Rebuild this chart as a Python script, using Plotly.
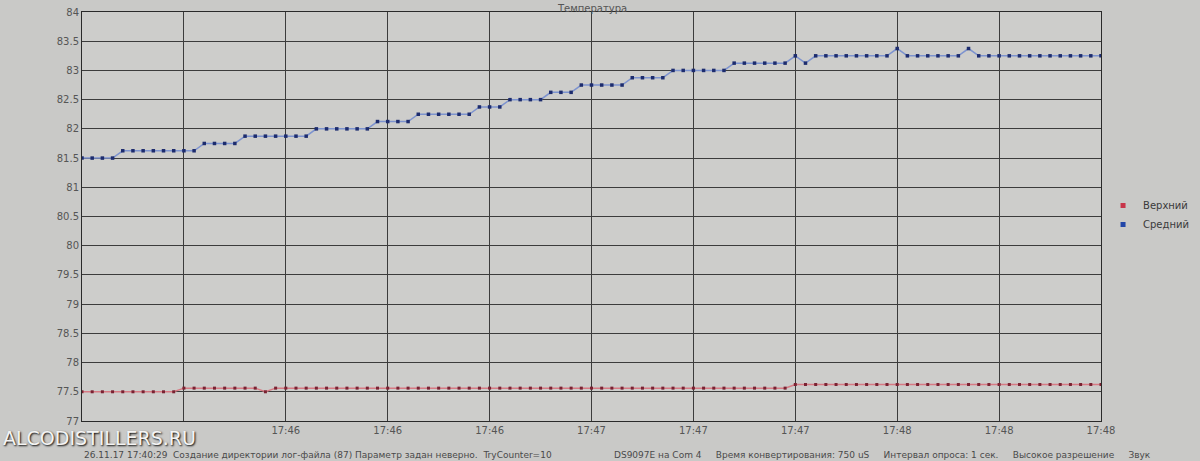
import plotly.graph_objects as go

# sample index (one point every 2 s)
sample_index = list(range(101))

srednij = [
    81.5, 81.5, 81.5, 81.5,
    81.625, 81.625, 81.625, 81.625, 81.625, 81.625, 81.625, 81.625,
    81.75, 81.75, 81.75, 81.75,
    81.875, 81.875, 81.875, 81.875, 81.875, 81.875, 81.875,
    82.0, 82.0, 82.0, 82.0, 82.0, 82.0,
    82.125, 82.125, 82.125, 82.125,
    82.25, 82.25, 82.25, 82.25, 82.25, 82.25,
    82.375, 82.375, 82.375,
    82.5, 82.5, 82.5, 82.5,
    82.625, 82.625, 82.625,
    82.75, 82.75, 82.75, 82.75, 82.75,
    82.875, 82.875, 82.875, 82.875,
    83.0, 83.0, 83.0, 83.0, 83.0, 83.0,
    83.125, 83.125, 83.125, 83.125, 83.125, 83.125,
    83.25, 83.125,
    83.25, 83.25, 83.25, 83.25, 83.25, 83.25, 83.25, 83.25,
    83.375,
    83.25, 83.25, 83.25, 83.25, 83.25, 83.25,
    83.375,
    83.25, 83.25, 83.25, 83.25, 83.25, 83.25, 83.25, 83.25, 83.25, 83.25, 83.25, 83.25, 83.25,
]

verhnij = [
    77.5, 77.5, 77.5, 77.5, 77.5, 77.5, 77.5, 77.5, 77.5, 77.5,
    77.5625, 77.5625, 77.5625, 77.5625, 77.5625, 77.5625, 77.5625, 77.5625,
    77.5,
    77.5625, 77.5625, 77.5625, 77.5625, 77.5625, 77.5625, 77.5625, 77.5625, 77.5625, 77.5625,
    77.5625, 77.5625, 77.5625, 77.5625, 77.5625, 77.5625, 77.5625, 77.5625, 77.5625, 77.5625,
    77.5625, 77.5625, 77.5625, 77.5625, 77.5625, 77.5625, 77.5625, 77.5625, 77.5625, 77.5625,
    77.5625, 77.5625, 77.5625, 77.5625, 77.5625, 77.5625, 77.5625, 77.5625, 77.5625, 77.5625,
    77.5625, 77.5625, 77.5625, 77.5625, 77.5625, 77.5625, 77.5625, 77.5625, 77.5625, 77.5625,
    77.5625,
    77.625, 77.625, 77.625, 77.625, 77.625, 77.625, 77.625, 77.625, 77.625, 77.625,
    77.625, 77.625, 77.625, 77.625, 77.625, 77.625, 77.625, 77.625, 77.625, 77.625,
    77.625, 77.625, 77.625, 77.625, 77.625, 77.625, 77.625, 77.625, 77.625, 77.625,
    77.625,
]

# first two labels are hidden under the watermark in the original photo
x_tick_pos = [0, 10, 20, 30, 40, 50, 60, 70, 80, 90, 100]
x_tick_labels = ["", "", "17:46", "17:46", "17:46", "17:47", "17:47", "17:47", "17:48", "17:48", "17:48"]

y_tick_vals = [77, 77.5, 78, 78.5, 79, 79.5, 80, 80.5, 81, 81.5, 82, 82.5, 83, 83.5, 84]
y_tick_text = ["77", "77.5", "78", "78.5", "79", "79.5", "80", "80.5", "81", "81.5", "82", "82.5", "83", "83.5", "84"]

series_names = ["Верхний", "Средний"]
title_text = "Температура"
status_left = "26.11.17 17:40:29  Создание директории лог-файла (87) Параметр задан неверно.  TryCounter=10"
status_right = "DS9097E на Com 4     Время конвертирования: 750 uS     Интервал опроса: 1 сек.     Высокое разрешение     Звук"
watermark = "ALCODISTILLERS.RU"

W, H = 1200, 461
M_L, M_R, M_T, M_B = 82, 85, 6, 40
plot_h = H - M_T - M_B


def py(pixel_y):
    """paper y coordinate for a pixel row measured from the top"""
    return (H - M_B - pixel_y) / plot_h


fig = go.Figure()
fig.add_trace(go.Scatter(
    x=sample_index, y=verhnij, name=series_names[0], mode="lines+markers", showlegend=False,
    line=dict(color="#d77a84", width=1.5),
    marker=dict(symbol="square", size=3, color="#7a2232"),
))
fig.add_trace(go.Scatter(
    x=sample_index, y=srednij, name=series_names[1], mode="lines+markers", showlegend=False,
    line=dict(color="#7d93cf", width=1.5),
    marker=dict(symbol="square", size=3.5, color="#1d2c6e"),
))
# legend entries (marker-only swatches, as in the original program)
fig.add_trace(go.Scatter(x=[None], y=[None], name=series_names[0], mode="markers",
                         marker=dict(symbol="square", size=5, color="#c8354a")))
fig.add_trace(go.Scatter(x=[None], y=[None], name=series_names[1], mode="markers",
                         marker=dict(symbol="square", size=5, color="#2246a8")))

fig.update_layout(
    width=W, height=H,
    paper_bgcolor="#c9c9c7", plot_bgcolor="#cdcdcb",
    margin=dict(l=M_L, r=M_R, t=M_T, b=M_B),
    font=dict(family="DejaVu Sans, Arial, sans-serif", size=10, color="#4a4a4a"),
    showlegend=True,
    legend=dict(x=1.002, y=py(212), xanchor="left", yanchor="middle",
                bgcolor="rgba(0,0,0,0)", font=dict(size=10, color="#3a3a3a"),
                itemwidth=30, tracegroupgap=6),
    xaxis=dict(range=[0, 100], tickvals=x_tick_pos, ticktext=x_tick_labels,
               showgrid=True, gridcolor="#3c3c3c", gridwidth=1,
               showline=True, linecolor="#2a2a2a", linewidth=1, mirror=True,
               ticks="", zeroline=False, tickfont=dict(size=10, color="#555555")),
    yaxis=dict(range=[77, 84], tickvals=y_tick_vals, ticktext=y_tick_text,
               showgrid=True, gridcolor="#3c3c3c", gridwidth=1,
               showline=True, linecolor="#2a2a2a", linewidth=1, mirror=True,
               ticks="", zeroline=False, tickfont=dict(size=10, color="#555555")),
)

fig.add_annotation(text=title_text, xref="paper", yref="paper", x=0.5, y=py(2),
                   yanchor="middle", showarrow=False, font=dict(size=10, color="#555555"))
fig.add_annotation(text=watermark, xref="paper", yref="paper", x=-0.079, y=py(438),
                   xanchor="left", yanchor="middle", showarrow=False,
                   font=dict(size=19, color="#f4f4f4", family="DejaVu Sans, Arial, sans-serif",
                             shadow="1px 1px 2px #000000"))
fig.add_annotation(text=status_left, xref="paper", yref="paper", x=0.0, y=py(455),
                   xanchor="left", yanchor="middle", showarrow=False,
                   font=dict(size=9, color="#4a4a4a"))
fig.add_annotation(text=status_right, xref="paper", yref="paper", x=0.52, y=py(455),
                   xanchor="left", yanchor="middle", showarrow=False,
                   font=dict(size=9, color="#4a4a4a"))

fig.write_html("out.html", config={"displayModeBar": False},
               post_script="document.body.style.margin='0';document.body.style.overflow='hidden';")
